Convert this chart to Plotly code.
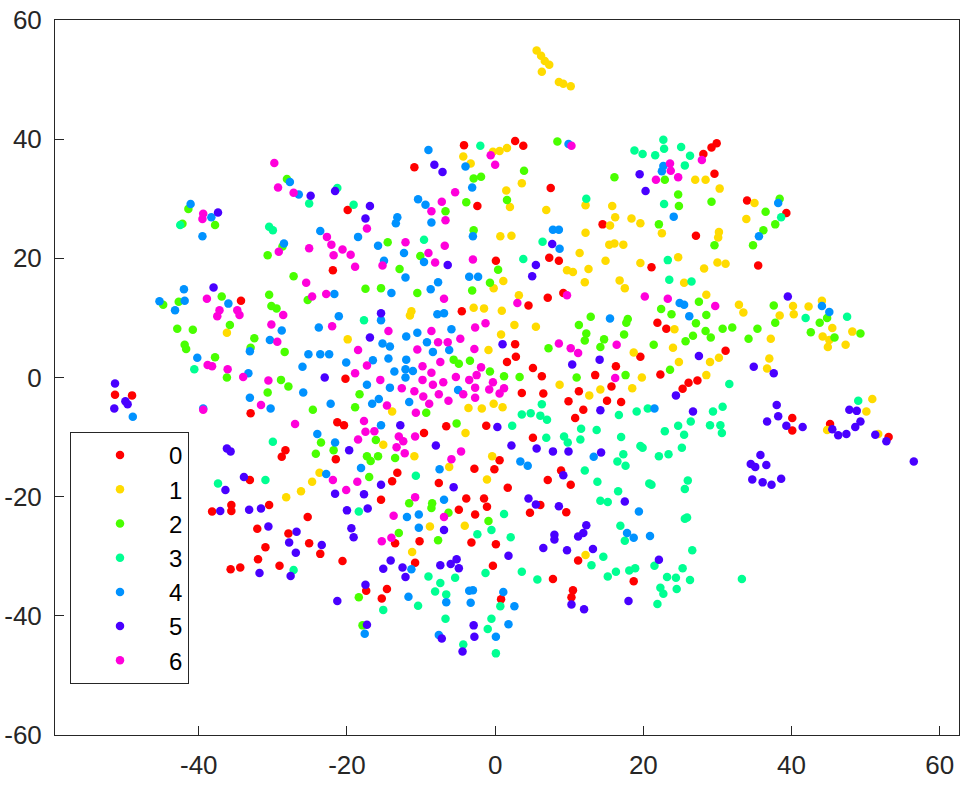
import plotly.graph_objects as go

labels = ["0", "1", "2", "3", "4", "5", "6"]
colors = ["#FF0000", "#FFDB00", "#49FF00", "#00FF92", "#0092FF", "#4900FF", "#FF00DB"]

s0 = [(-19.9,28.1),(-21.9,18.0),(-34.3,12.9),(-20.2,-0.2),(-51.3,-2.9),(-49.0,-3.0),(-33.0,-6.0),(-21.3,-7.5),(-20.4,-8.0),
(-28.3,-12.2),(-28.8,-13.3),(-21.5,-13.7),(-33.1,-17.2),(-35.6,-21.4),(-35.6,-22.4),(-38.2,-22.5),(-30.5,-21.4),(-25.3,-23.4),
(-32.1,-25.4),(-27.9,-26.2),(-25.1,-27.8),(-31.0,-28.5),(-23.6,-29.6),(-32.0,-30.5),(-20.6,-30.8),(-29.1,-31.6),(-35.7,-32.2),(-34.4,-31.9),
(-4.2,39.0),(2.7,39.7),(3.8,38.9),(-10.9,35.3),(7.5,31.8),(-2.4,28.8),(14.5,25.7),(0.1,19.6),(7.3,20.1),(8.6,19.6),(7.1,13.4),(9.2,14.2),
(4.5,12.1),(-4.5,11.1),(2.7,5.6),(2.8,3.5),(1.6,2.6),(5.1,1.6),(6.3,0.2),(16.3,1.9),(13.5,0.4),
(29.9,39.3),(29.2,38.6),(28.1,37.5),(29.6,34.2),(34.0,29.7),(39.3,27.6),(27.1,23.8),(35.5,18.8),(21.1,18.5),(21.9,9.2),(23.1,8.2),(19.6,3.5),(31.1,4.5),(22.3,0.5),
(3.6,-2.6),(6.5,-2.7),(11.3,-2.3),(15.7,-1.5),(9.9,-4.0),(15.1,-3.9),(17.0,-4.1),(11.9,-5.4),(10.8,-6.8),(-1.2,-8.1),(-6.6,-8.2),(-9.6,-9.3),(5.1,-10.1),
(0.6,-13.9),(-2.8,-15.3),(-0.1,-15.4),(-13.2,-16.0),(-13.9,-17.4),(-7.6,-17.7),(1.7,-18.5),(7.1,-17.2),(8.9,-15.6),(10.2,-18.0),(-15.4,-20.5),(-3.9,-20.3),(-1.5,-20.3),
(-1.1,-21.7),(-4.9,-22.2),(-2.7,-23.0),(4.7,-22.7),(6.1,-21.4),(9.6,-22.6),(-13.5,-27.8),(-10.2,-27.5),(-3.2,-27.7),(0.1,-28.0),(11.2,-30.7),(-10.8,-31.1),(-0.3,-31.6),
(7.8,-33.8),(18.7,-34.2),(10.5,-35.7),(10.3,-36.9),(-17.4,-35.8),(-14.6,-35.5),(-15.3,-37.1),(0.8,-37.2),
(26.1,-0.9),(25.3,-1.9),(27.3,-0.5),(40.1,-6.8),(40.1,-8.9),(45.2,-7.8),(53.1,-10.0)]

s1 = [(-36.2,7.5),(-19.9,6.4),(-23.7,-16.0),(-24.7,-17.5),(-26.2,-19.1),(-28.2,-20.1),
(-0.3,37.9),(0.6,38.0),(1.6,38.5),(-4.3,37.1),(-3.3,35.9),(3.6,32.6),(1.5,31.4),(2.0,28.6),(6.9,28.1),(12.2,28.9),(15.8,28.8),(16.2,26.9),(18.4,26.7),(19.6,25.9),(15.5,25.5),
(12.2,24.3),(0.7,23.7),(2.2,23.8),(15.4,22.3),(16.1,22.5),(17.3,22.3),(11.4,20.9),(14.9,19.6),(19.6,19.2),(9.7,18.0),(10.5,17.7),(12.6,18.2),(12.1,16.0),(16.8,16.3),(17.5,15.0),
(1.1,16.2),(-0.2,15.0),(3.2,13.8),(-2.9,11.7),(-1.5,11.6),(0.9,11.2),(-11.3,11.1),(-11.5,10.4),(2.6,8.8),(5.5,8.5),(0.8,7.2),(-0.9,4.6),(18.7,4.2),
(27.0,33.2),(28.4,33.2),(30.3,31.7),(35.0,29.3),(33.9,26.6),(22.5,24.2),(30.2,24.4),(30.1,23.5),(24.7,20.2),(28.2,18.3),(30.0,19.3),(31.1,19.1),(25.5,15.9),(28.5,13.9),
(32.9,12.2),(33.5,10.9),(40.2,12.0),(42.3,11.9),(44.1,12.9),(38.4,10.4),(40.3,10.6),(24.2,8.1),(45.5,8.3),(48.2,7.7),(44.2,6.9),(45.1,6.3),(44.9,5.1),(47.3,5.5),(37.2,6.5),
(24.0,5.0),(24.8,2.6),(29.0,2.6),(30.2,3.3),(37.0,3.2),(36.7,1.5),(19.8,0.0),(28.5,0.4),
(5.6,54.9),(6.2,54.0),(6.7,53.1),(7.3,52.5),(6.3,51.3),(8.6,49.6),(9.2,49.3),(10.2,48.9),
(8.7,-1.2),(14.2,-2.0),(12.7,-3.0),(18.5,-1.8),(-3.6,-5.1),(-1.8,-5.2),(-0.2,-4.4),(1.0,-5.0),(-13.9,-5.7),(-4.0,-9.3),(-15.1,-11.3),(-10.9,-13.2),(-0.4,-13.2),(-6.2,-15.0),
(-1.1,-17.1),(-8.8,-25.0),(-4.1,-24.9),(-11.2,-29.3),(12.2,-29.8),(50.9,-3.6),(50.1,-5.7),(44.8,-8.8),(51.7,-9.5)]

s2 = [(-28.1,33.3),(-41.4,28.3),(-42.2,25.8),(-37.8,25.6),(-28.7,22.0),(-30.7,20.5),(-27.2,17.0),(-36.9,13.6),(-30.5,13.9),(-25.3,13.0),(-44.8,12.2),(-42.7,12.7),(-30.2,12.0),(-29.5,11.6),
(-35.8,8.8),(-42.9,8.2),(-40.8,8.0),(-32.5,6.6),(-41.9,5.5),(-41.7,4.8),(-33.0,5.0),(-28.4,4.3),(-37.8,3.4),(-36.2,0.0),(-28.9,-0.4),(-27.9,-1.5),(-30.7,-2.5),(-24.6,-5.4),(-23.5,-10.9),(-21.8,-12.2),(-24.2,-12.8),
(8.4,39.6),(3.9,34.7),(-2.9,33.4),(-1.9,33.7),(1.6,29.8),(-3.9,29.4),(-6.7,27.9),(16.1,33.6),(-2.9,24.7),(-14.5,22.7),(-10.1,20.4),(-12.9,18.2),(0.4,18.1),(-0.7,15.9),(-17.5,14.9),(-15.4,15.0),
(-10.5,14.2),(-3.1,14.6),(12.9,10.2),(11.3,8.8),(17.9,9.8),(17.7,9.2),(12.3,7.4),(12.1,6.2),(17.4,7.2),(14.7,6.4),(14.2,5.1),(7.2,4.9),(-5.6,3.0),(-4.9,2.3),(-3.4,2.8),(-0.7,1.0),(1.2,0.2),(3.3,0.1),(11.0,0.0),(17.6,0.4),
(22.9,33.2),(24.7,30.7),(24.8,28.8),(29.2,29.5),(38.4,30.0),(36.5,27.8),(37.8,25.7),(22.1,25.7),(36.2,24.7),(29.6,22.2),(34.8,22.2),(27.5,12.7),(22.4,11.5),(23.8,10.6),(28.5,10.5),(27.1,9.1),(37.6,12.1),(37.8,9.2),
(43.8,9.2),(44.8,10.0),(28.4,7.8),(30.7,8.2),(32.0,8.4),(35.4,8.2),(42.6,7.6),(45.8,6.7),(49.3,7.4),(26.7,7.0),(29.1,6.7),(25.7,6.1),(34.2,6.5),(21.4,5.5),(23.6,1.3),
(-18.3,-2.8),(-18.9,-5.0),(-9.3,-5.9),(-5.2,-7.7),(-16.1,-10.5),(-17.3,-13.2),(-15.8,-13.2),(-16.8,-14.0),(-13.5,-13.5),(-17.0,-16.7),(-11.6,-21.1),(-8.5,-21.1),(-8.6,-21.9),(-6.3,-22.7),(-0.9,-24.1),(-13.0,-26.1),(-7.7,-27.3),(-18.4,-36.9),(-17.9,-41.6)]

s3 = [(-21.3,31.8),(-25.1,29.2),(-42.5,25.6),(-30.5,25.3),(-30.0,24.7),(-40.6,1.4),(-30.0,-10.8),(-37.4,-17.8),(-31.0,-17.2),(-27.2,-32.3),
(-2.0,38.9),(-19.1,29.0),(12.3,30.0),(-9.6,23.1),(6.4,22.8),(3.8,19.9),(-17.7,9.6),
(18.8,38.1),(19.9,37.5),(21.6,37.3),(22.7,39.9),(22.8,38.4),(25.1,38.7),(26.3,37.2),(25.6,35.6),(22.8,29.1),(23.3,19.7),(23.5,16.4),(26.5,16.1),(38.6,26.9),(41.9,10.0),(47.5,10.2),
(6.3,-4.5),(3.6,-6.2),(4.8,-6.0),(6.1,-6.4),(7.0,-7.1),(16.7,-6.3),(19.1,-5.7),(2.3,-8.1),(11.6,-8.6),(13.7,-8.8),(6.9,-10.1),(9.3,-9.9),(11.5,-10.4),(9.8,-10.9),(17.0,-10.0),(19.6,-11.5),(17.3,-12.9),(16.5,-14.1),(17.6,-14.8),
(12.1,-15.6),(-10.7,-16.5),(13.8,-17.5),(16.6,-19.1),(14.2,-20.7),(15.2,-20.9),(1.2,-22.9),(-18.4,-22.5),(-0.5,-25.6),(-2.4,-26.3),(2.1,-26.8),(16.9,-24.9),(17.5,-27.4),(14.6,-30.1),(13.0,-31.5),(18.9,-32.0),(18.1,-32.4),(16.3,-32.6),(15.2,-33.4),
(-1.3,-32.8),(3.6,-32.6),(5.7,-33.9),(-9.0,-33.4),(-5.4,-33.6),(-7.4,-34.5),(-8.1,-35.9),(-6.6,-36.4),(-10.4,-38.3),(-15.1,-39.0),(0.7,-38.4),(-6.7,-40.5),(-0.5,-40.5),(-1.0,-42.2),(-4.3,-44.8),(0.1,-46.3),
(31.6,-1.1),(20.6,-5.2),(29.4,-5.7),(30.7,-4.9),(26.4,-7.4),(24.7,-8.1),(22.9,-9.0),(25.5,-9.6),(29.0,-8.0),(30.4,-8.0),(30.6,-9.3),(19.9,-11.8),(25.2,-11.8),(23.4,-12.9),(22.1,-13.2),(20.8,-17.8),(21.1,-18.0),(26.0,-17.3),(25.6,-18.7),
(25.9,-23.5),(25.6,-23.7),(26.6,-29.0),(21.5,-31.6),(25.3,-32.0),(23.2,-33.5),(24.4,-33.6),(26.3,-34.0),(33.3,-33.8),(22.3,-35.3),(22.7,-36.3),(24.5,-35.5),(21.9,-38.0),(49.0,-3.9)]

s4 = [(-27.7,32.8),(-26.5,30.7),(-41.1,29.1),(-38.3,26.9),(-39.5,23.7),(-23.6,24.6),(-28.5,22.5),(-42.0,14.8),(-45.3,12.8),(-41.9,12.9),(-43.2,11.3),(-36.0,12.4),(-21.7,14.0),(-21.1,10.3),(-23.8,8.4),(-28.8,7.9),(-30.4,6.3),(-33.1,4.4),
(-40.2,3.3),(-25.2,3.9),(-23.6,3.9),(-22.4,3.9),(-20.1,2.5),(-26.0,1.8),(-33.3,0.7),(-48.9,-6.6),(-33.1,-3.4),(-30.3,-5.2),(-25.9,-2.5),(-22.2,-4.4),(-24.0,-9.5),(-21.6,-10.9),(-39.4,-5.2),(-22.8,-16.2),
(-9.0,38.2),(-4.0,35.4),(-3.1,31.9),(9.9,39.2),(-10.4,29.9),(-9.4,29.0),(-13.2,26.9),(-13.4,25.9),(-8.6,26.0),(7.8,24.8),(8.6,24.8),(-3.0,23.7),(-18.5,23.6),(-15.8,22.1),(8.7,21.6),(-12.3,20.9),(-15.0,19.6),(-9.6,19.4),(-12.1,16.8),
(-3.5,16.9),(-2.3,16.9),(-7.7,16.0),(-14.0,14.2),(-8.7,14.8),(-7.8,10.6),(-6.9,10.8),(-15.4,9.6),(15.5,9.9),(-5.9,8.1),(-12.0,6.9),(-10.5,7.5),(-15.2,5.7),(-14.2,5.2),(-9.2,5.9),(-8.4,4.3),(-6.2,4.6),(-16.5,2.9),(-14.4,3.2),(-12.0,3.0),
(-13.6,1.0),(-12.1,1.4),(-11.1,1.1),(-12.1,0.0),
(22.7,35.5),(22.5,34.6),(24.1,27.0),(38.2,29.3),(35.6,23.7),(24.9,12.5),(25.5,12.2),(26.2,10.3),(44.1,12.0),(45.1,11.0),
(-17.3,-1.2),(-14.2,-1.7),(-15.7,-3.6),(-16.6,-4.4),(-11.6,-4.1),(-5.0,-2.1),(-15.4,-8.0),(-18.1,-15.2),(-7.5,-15.4),(3.4,-14.1),(4.4,-14.8),(13.3,-13.3),(-6.9,-20.5),(-11.9,-23.4),(-10.3,-23.0),(-10.3,-25.2),(17.8,-26.1),(18.7,-26.9),
(-11.3,-32.2),(-3.0,-35.7),(-3.5,-35.8),(1.1,-36.0),(-11.7,-36.8),(-6.6,-37.7),(-3.3,-37.8),(2.6,-38.4),(1.8,-41.4),(-17.6,-43.0),(-7.6,-43.2),(0.1,-43.5),(19.4,-22.5),(21.5,-5.2),(20.9,-26.6)]

s5 = [(-24.9,30.5),(-21.6,31.3),(-37.4,27.7),(-38.0,15.1),(-23.0,0.0),(-51.3,-1.0),(-49.9,-4.0),(-49.6,-4.5),(-51.4,-5.2),(-36.2,-11.9),(-35.7,-12.4),(-19.7,-12.2),(-33.9,-16.7),(-36.4,-18.9),(-21.6,-19.5),(-37.1,-22.4),(-33.2,-22.2),(-31.6,-22.0),(-20.0,-22.3),
(-30.6,-25.0),(-26.8,-25.9),(-19.4,-25.3),(-27.8,-27.7),(-23.4,-28.1),(-26.9,-29.4),(-31.8,-32.8),(-27.6,-33.3),(-21.3,-37.5),
(-8.2,35.7),(-7.1,34.5),(-16.9,28.8),(-17.5,26.7),(7.7,22.4),(-6.4,18.9),(5.5,18.9),(5.0,17.0),(-15.4,10.8),(-16.9,6.7),(1.0,5.6),(14.1,3.0),(10.4,2.2),
(19.5,34.1),(20.3,31.3),(39.5,13.6),(27.5,3.6),(34.9,1.8),(37.6,0.7),
(-12.8,-8.0),(0.3,-8.3),(-8.0,-11.4),(2.2,-11.4),(5.6,-11.9),(7.8,-12.4),(9.9,-12.4),(14.3,-12.6),(14.2,-5.5),(9.2,-16.4),(-15.4,-18.0),(-5.6,-18.4),(-17.7,-19.6),(-17.2,-22.0),(4.5,-20.3),(5.5,-21.3),(8.6,-21.6),(17.5,-20.8),(-19.1,-26.8),(-6.9,-25.6),
(12.3,-24.8),(11.9,-26.1),(11.2,-26.7),(8.0,-26.4),(8.0,-27.2),(6.5,-28.6),(9.7,-29.0),(13.2,-28.8),(1.8,-29.9),(-14.1,-30.7),(-15.1,-32.1),(-12.5,-31.9),(-12.1,-33.5),(-7.4,-31.5),(-6.0,-31.3),(-5.2,-30.5),(-4.9,-32.0),(-17.5,-34.8),
(10.3,-38.1),(12.0,-38.9),(18.0,-37.5),(-17.3,-41.5),(-2.9,-41.6),(-2.8,-43.5),(-7.2,-43.8),(-4.4,-46.0),
(24.4,-3.0),(26.7,-5.7),(38.0,-4.6),(38.2,-6.5),(36.7,-7.4),(39.3,-8.1),(41.5,-8.3),(47.8,-5.4),(48.8,-5.6),(49.3,-7.4),(48.6,-8.3),(45.5,-8.7),(46.3,-9.7),(47.4,-9.5),(51.3,-9.6),(52.8,-10.7),(56.5,-14.1),
(35.8,-13.0),(34.5,-14.5),(35.1,-15.0),(36.6,-14.7),(34.7,-17.1),(36.1,-17.6),(37.3,-18.0),(38.6,-17.0),(22.1,-30.6)]

s6 = [(-29.8,36.0),(-29.3,31.9),(-27.2,31.0),(-39.4,27.5),(-39.5,26.6),(-22.7,23.6),(-22.1,22.3),(-25.1,21.7),(-29.2,21.1),(-20.6,21.5),(-21.8,20.5),(-19.5,20.6),(-25.5,15.9),(-24.7,13.6),(-22.8,14.0),(-38.9,13.2),(-37.2,11.3),(-37.5,10.3),(-34.8,11.3),(-34.5,10.5),
(-28.6,10.5),(-30.2,8.9),(-22.0,8.6),(-29.4,6.0),(-38.8,2.1),(-38.2,1.9),(-36.1,1.4),(-34.0,0.1),(-30.6,-0.5),(-39.4,-5.4),(-31.6,-4.6),(-27.0,-7.8),(-21.9,-17.2),(-20.1,-18.9),
(-0.6,37.3),(0.0,35.7),(-5.4,31.1),(-7.2,29.5),(-8.6,27.9),(-6.7,26.4),(10.3,38.9),(-17.3,25.0),(-12.1,22.7),(-6.8,22.1),(-9.0,20.9),(-8.1,19.3),(-3.0,19.8),(-18.9,18.6),(-15.2,18.8),(-6.9,13.2),(3.0,12.5),(9.7,13.8),(-1.3,9.1),(-2.7,8.4),
(-14.4,7.8),(-8.6,7.8),(-7.7,5.9),(-6.4,5.9),(-4.7,6.5),(-18.5,4.6),(-10.5,4.7),(-2.8,4.8),(8.6,5.7),(10.2,4.9),(11.2,4.1),(16.4,5.5),(-17.3,2.0),(-18.9,0.7),(-9.8,1.9),(-7.4,2.6),(-8.6,0.8),(-1.9,1.7),(-2.5,0.4),(-5.3,0.1),(-15.5,-0.4),(-9.8,-0.4),(-3.5,-0.4),(16.2,-0.1),
(27.9,36.5),(23.6,35.9),(23.7,34.7),(21.7,33.2),(24.7,33.6),(20.2,13.6),(23.3,13.2),(29.7,12.0),
(-7.0,-0.8),(-0.3,-0.8),(-12.6,-1.8),(-10.9,-2.3),(-8.4,-1.2),(-7.6,-2.8),(-9.7,-3.2),(-6.3,-3.9),(-8.9,-4.4),(-4.3,-2.8),(-2.7,-1.7),(-2.7,-3.4),(-0.8,-2.0),(0.6,-2.7),(1.2,-1.8),(-14.6,-4.7),(-10.7,-5.9),(-17.7,-7.3),(-17.5,-9.1),(-16.3,-9.0),(-18.5,-10.4),
(-13.0,-9.9),(-12.4,-10.7),(-10.8,-9.9),(-13.3,-11.7),(-12.2,-12.7),(-4.6,-12.4),(-5.9,-13.7),(-18.6,-17.5),(-10.8,-20.1),(-13.7,-23.2),(-6.9,-23.4),(-15.3,-27.5),(-14.0,-26.9)]

series = [s0, s1, s2, s3, s4, s5, s6]
x_ticks = [-40, -20, 0, 20, 40, 60]
x_tick_text = ["-40", "-20", "0", "20", "40", "60"]
y_ticks = [-60, -40, -20, 0, 20, 40, 60]
y_tick_text = ["-60", "-40", "-20", "0", "20", "40", "60"]

fig = go.Figure()
for name, color, pts in zip(labels, colors, series):
    fig.add_trace(go.Scatter(
        x=[p[0] for p in pts], y=[p[1] for p in pts], mode="markers", name=name,
        marker=dict(color=color, size=8.5, line=dict(width=0)),
    ))

axis_common = dict(
    showgrid=False, zeroline=False, showline=True, mirror=True,
    linecolor="#262626", linewidth=1, ticks="inside", ticklen=9, tickwidth=1, tickcolor="#262626",
    ticklabelstandoff=7,
    tickfont=dict(family="Liberation Sans, Arial, sans-serif", size=26, color="#262626"),
)
fig.update_layout(
    width=974, height=785, paper_bgcolor="white", plot_bgcolor="white",
    margin=dict(l=55, r=15, t=20, b=50, autoexpand=False),
    xaxis=dict(range=[-59.4, 62.6], tickvals=x_ticks, ticktext=x_tick_text, **axis_common),
    yaxis=dict(range=[-60, 60], tickvals=y_ticks, ticktext=y_tick_text, **axis_common),
    showlegend=True,
    legend=dict(
        x=15/904, y=1-412/715, xanchor="left", yanchor="top",
        bgcolor="white", bordercolor="#262626", borderwidth=1,
        itemwidth=88, tracegroupgap=0,
        font=dict(family="Liberation Sans, Arial, sans-serif", size=24, color="black"),
    ),
)
fig.write_html("out.html", config={"displayModeBar": False},
               post_script="document.body.style.margin='0';document.body.style.overflow='hidden';")
